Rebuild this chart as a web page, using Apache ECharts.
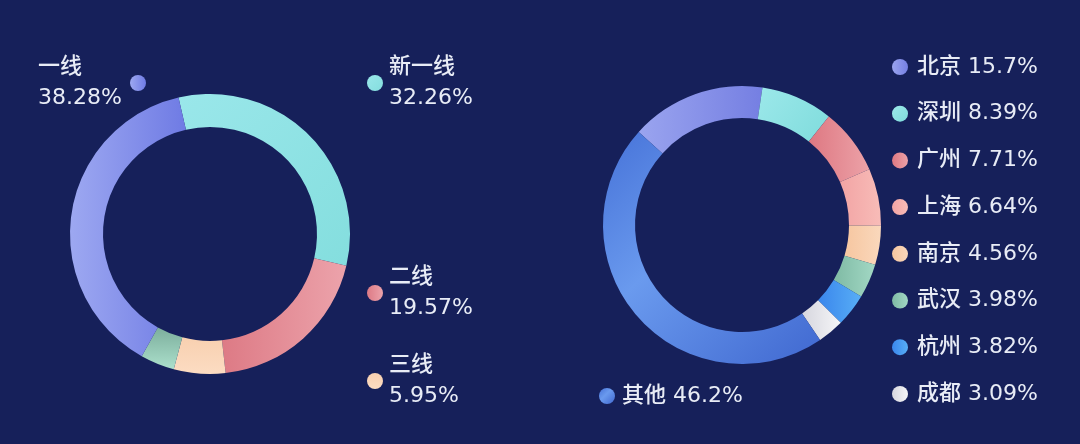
<!DOCTYPE html>
<html lang="zh">
<head>
    <meta charset="UTF-8">
    <title>城市分布</title>
    <script src="https://cdn.jsdelivr.net/npm/echarts@6/dist/echarts.min.js"></script>
    <style>
        html,body{
            margin: 0;
            height: 100%;
            background: #16205a;
        }
    </style>
</head>
<body>
<!--图表容器-->
<div id="main" style="width: 1080px;height: 444px"></div>
<script>
    // 左侧：城市等级占比
    var levelNames = ['新一线', '二线', '三线', '四线及以下', '一线'];
    var levelValues = [32.26, 19.57, 5.95, 3.94, 38.28];
    // 右侧：城市占比
    var cityNames = ['北京', '深圳', '广州', '上海', '南京', '武汉', '杭州', '成都', '其他'];
    var cityValues = [15.7, 8.39, 7.71, 6.64, 4.56, 3.98, 3.82, 3.09, 46.2];

    var FONT = '"DejaVu Sans", "Noto Sans CJK SC", sans-serif';
    var TEXT = '#e8ecf6';
    var SIZE = 22;

    function grad(x, y, x2, y2, stops) {
        return new echarts.graphic.LinearGradient(x, y, x2, y2, stops.map(function (c) {
            return {offset: c[0], color: c[1]};
        }));
    }

    var levelColors = {
        '新一线': grad(0, 0, 1, 1, [[0, '#9ae7ea'], [1, '#84dede']]),
        '二线': grad(0, 0, 1, 0, [[0, '#dd7a85'], [1, '#eca3ab']]),
        '三线': grad(0, 0, 0, 1, [[0, '#f8d0b0'], [1, '#fcdcc2']]),
        '四线及以下': grad(0, 0, 0, 1, [[0, '#7cae9c'], [1, '#ace0cc']]),
        '一线': grad(0, 0, 1, 0, [[0, '#9da8f1'], [1, '#6f7be4']])
    };
    var cityColors = {
        '北京': grad(0, 0, 1, 0, [[0, '#9aa4ef'], [1, '#757fe2']]),
        '深圳': grad(0, 0, 1, 1, [[0, '#9ce8ea'], [1, '#7fdcdc']]),
        '广州': grad(0, 0, 1, 0, [[0, '#de7882'], [1, '#eca2a8']]),
        '上海': grad(0, 0, 1, 0, [[0, '#f2a4a4'], [1, '#f8bcb8']]),
        '南京': grad(0, 0, 1, 0, [[0, '#f6c6a0'], [1, '#fad8bc']]),
        '武汉': grad(0, 0, 1, 0, [[0, '#7fbaa4'], [1, '#a2d8c4']]),
        '杭州': grad(0, 0, 1, 0, [[0, '#3a86ec'], [1, '#58aef6']]),
        '成都': grad(0, 0, 1, 0, [[0, '#d6d6de'], [1, '#f6f6f8']]),
        '其他': grad(0, 0, 1, 1, [[0, '#4672d8'], [0.42, '#6a9aee'], [1, '#4068d0']])
    };

    function levelText(name) {
        var i = levelNames.indexOf(name);
        return levelValues[i] + '%';
    }
    function cityText(name) {
        var i = cityNames.indexOf(name);
        return name + ' ' + cityValues[i] + '%';
    }

    // 左侧图例的公共样式
    function levelLegend(name, left, top) {
        return {
            data: [name],
            left: left,
            top: top,
            padding: 0,
            icon: 'circle',
            itemWidth: 16,
            itemHeight: 16,
            selectedMode: false,
            formatter: function (n) { return n + '\n' + levelText(n); },
            textStyle: {
                color: TEXT, fontSize: SIZE, fontWeight: 500, fontFamily: FONT,
                lineHeight: 31, padding: [0, 0, 0, 1]
            }
        };
    }

    var myChart = echarts.init(document.getElementById('main'));

    var option = {
        backgroundColor: '#16205a',
        legend: [
            levelLegend('新一线', 367, 52),
            levelLegend('二线', 367, 262),
            levelLegend('三线', 367, 350),
            {
                data: ['一线'],
                left: 38,
                top: 52,
                padding: 0,
                align: 'right',
                icon: 'circle',
                itemWidth: 16,
                itemHeight: 16,
                selectedMode: false,
                formatter: function (n) {
                    return '{a|' + n + '}\n{a|' + levelText(n) + '}';
                },
                textStyle: {
                    color: TEXT, fontSize: SIZE, fontFamily: FONT, lineHeight: 31,
                    padding: [0, 5, 0, 0],
                    rich: {a: {width: 82, align: 'left', color: TEXT, fontSize: SIZE, fontWeight: 500, fontFamily: FONT, lineHeight: 31}}
                }
            },
            {
                data: cityNames.slice(0, 8),
                orient: 'vertical',
                left: 892,
                top: 55,
                padding: 0,
                itemGap: 22.7,
                icon: 'circle',
                itemWidth: 16,
                itemHeight: 16,
                selectedMode: false,
                formatter: cityText,
                textStyle: {color: TEXT, fontSize: SIZE, fontWeight: 500, fontFamily: FONT, lineHeight: 24, padding: [0, 0, 0, 4]}
            },
            {
                data: ['其他'],
                left: 599,
                top: 384,
                padding: 0,
                icon: 'circle',
                itemWidth: 16,
                itemHeight: 16,
                selectedMode: false,
                formatter: cityText,
                textStyle: {color: TEXT, fontSize: SIZE, fontWeight: 500, fontFamily: FONT, lineHeight: 24, padding: [0, 0, 0, 2]}
            }
        ],
        series: [
            {
                name: '城市等级',
                type: 'pie',
                center: [210, 234],
                radius: [107, 140],
                startAngle: 103,
                label: {show: false},
                labelLine: {show: false},
                emphasis: {scale: false},
                data: levelNames.map(function (n, i) {
                    return {name: n, value: levelValues[i], itemStyle: {color: levelColors[n]}};
                })
            },
            {
                name: '城市',
                type: 'pie',
                center: [742, 225],
                radius: [107, 139],
                startAngle: 138,
                label: {show: false},
                labelLine: {show: false},
                emphasis: {scale: false},
                data: cityNames.map(function (n, i) {
                    return {name: n, value: cityValues[i], itemStyle: {color: cityColors[n]}};
                })
            }
        ]
    };
    myChart.setOption(option);
</script>
</body>
</html>
